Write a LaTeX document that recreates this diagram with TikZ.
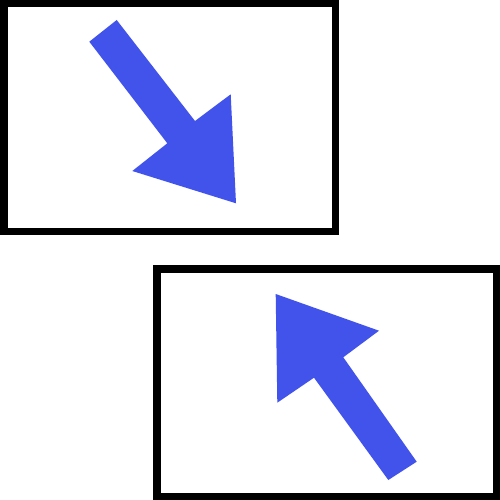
\documentclass[tikz,border=0pt]{standalone}
\definecolor{arrowblue}{RGB}{65,83,235}
\tikzset{
  frame/.style={draw=black, line width=7.5pt, fill=white},
  bigarrow/.style={fill=arrowblue, draw=none}
}
\begin{document}
\begin{tikzpicture}[x=1pt,y=-1pt]
\useasboundingbox (0,0) rectangle (500,500);
\fill[white] (0,0) rectangle (500,500);
% top frame
\draw[frame] (3.75,3.75) rectangle (335.25,231.25);
% bottom frame
\draw[frame] (156.75,268.75) rectangle (496.25,496.25);
% top arrow (pointing down-right)
\fill[bigarrow] (89.3,41.7) -- (116.7,20) -- (195,121) -- (230.7,94.3) -- (236,203.3) -- (132.3,171) -- (167.3,143.3) -- cycle;
% bottom arrow (pointing up-left)
\fill[bigarrow] (275.7,294) -- (379,330.7) -- (343.3,357.3) -- (416.7,461.7) -- (388.3,480) -- (314,377.7) -- (277.3,402.7) -- cycle;
\end{tikzpicture}
\end{document}
